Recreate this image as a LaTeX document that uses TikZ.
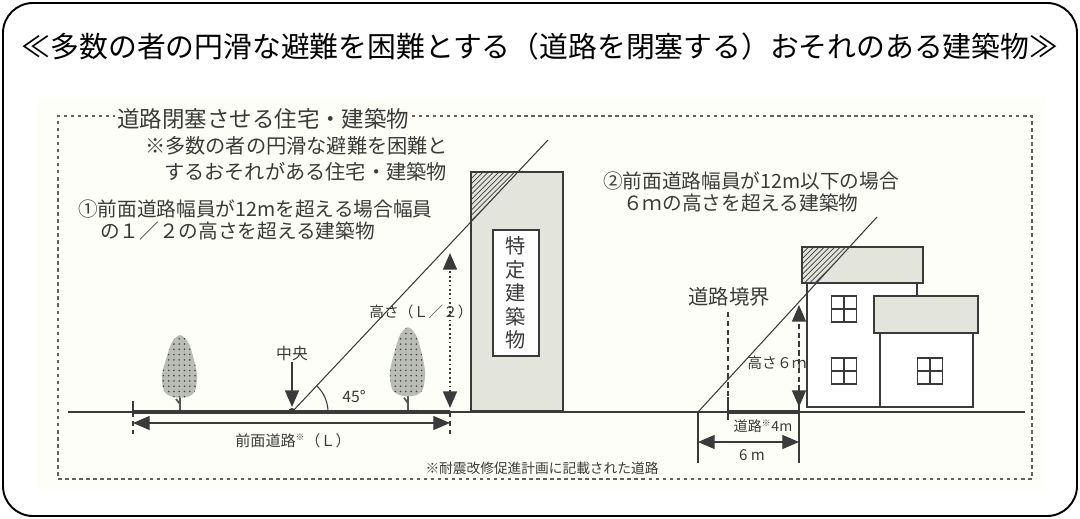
\documentclass[tikz,border=0pt]{standalone}
\usepackage{fontspec}
\setmainfont{Noto Sans CJK JP}
\usetikzlibrary{arrows.meta}
\usetikzlibrary{patterns}

\definecolor{ink}{HTML}{3A3A3A}
\definecolor{paper}{HTML}{FEFEF8}
\definecolor{bldg}{HTML}{E3E5DC}
\definecolor{leaf}{HTML}{BABDB6}

\newcommand{\fsz}[1]{\fontsize{#1}{1.15\dimexpr#1pt\relax}\selectfont}

\tikzset{
  lbl/.style = {text=ink, inner sep=1pt},
  thin/.style = {draw=ink, line width=0.6pt},
  roadbar/.style = {ink, line width=2.4pt},
  bighead/.tip = {Triangle[length=9.5pt,width=8pt]},
  dimarrow/.style = {ink, line width=0.7pt, bighead-bighead},
  framedash/.style = {gray!75!black, line width=0.6pt, dash pattern=on 2pt off 2pt},
  hatch/.style = {pattern=north east lines, pattern color=ink},
  roadtree/.pic = {
    \draw[ink!85, line width=1pt] (0,0) -- (0,-16) (0,-8) -- (-4,-13);
    \draw[gray, line width=0.4pt] (-8,0) -- (-7,-2) (-4,0) -- (-3,-2) (4,0) -- (5,-2) (8,0) -- (9,-2);
    \fill[leaf, postaction={pattern=dots, pattern color=gray!50!black}]
      plot[smooth cycle] coordinates {(0,-77) (8,-70) (13,-56) (17,-37) (15,-21) (7,-15) (-7,-15) (-16,-21) (-18,-37) (-13,-56) (-8,-70)};
  }
}

\begin{document}
\begin{tikzpicture}[x=0.02cm, y=-0.02cm]
\useasboundingbox (0,0) rectangle (1080,518);

% outer box and title
\draw[line width=1.1pt, rounded corners=0.6cm] (3,3) rectangle (1077,516);
\node[font=\fsz{16.4}] (title) at (540,47) {≪多数の者の円滑な避難を困難とする（道路を閉塞する）おそれのある建築物≫};

% scanned sheet
\fill[paper] (37,97) rectangle (1045,490);

% frame with its heading
\node[lbl, anchor=west, font=\fsz{12.8}] (framelbl) at (115,119) {道路閉塞させる住宅・建築物};
\coordinate (frNW) at (58,116);
\coordinate (frNE) at (1032,116);
\coordinate (frSE) at (1032,479);
\coordinate (frSW) at (58,479);
\draw[framedash] (framelbl.east |- frNE) -- (frNE) -- (frSE) -- (frSW) -- (frNW) -- (framelbl.west |- frNW);

\node[lbl, anchor=west, font=\fsz{11.5}] (note1) at (143,146) {※多数の者の円滑な避難を困難と};
\node[lbl, anchor=west, font=\fsz{11.5}] (note2) at (162,172) {するおそれがある住宅・建築物};
\node[lbl, anchor=west, font=\fsz{11.2}] (caseA1) at (76,209) {①前面道路幅員が12mを超える場合幅員};
\node[lbl, anchor=west, font=\fsz{11.2}] (caseA2) at (98,231) {の１／２の高さを超える建築物};
\node[lbl, anchor=west, font=\fsz{11.2}] (caseB1) at (601,181) {②前面道路幅員が12m以下の場合};
\node[lbl, anchor=west, font=\fsz{11.2}] (caseB2) at (621,203) {６ｍの高さを超える建築物};

% ground
\coordinate (gndW) at (68,412);
\coordinate (gndE) at (1025,412);
\draw[ink, line width=0.7pt] (gndW) -- (gndE);

% ---- case 1: wide road ----
\pic at (180,412) {roadtree};
\pic[yscale=1.1] at (408,412) {roadtree};

\coordinate (roadW) at (133,412);
\coordinate (roadE) at (450,412);
\coordinate (mid) at (292,412);
\draw[roadbar] (roadW) -- (roadE);
\draw[ink, line width=0.8pt] (133,401) -- (roadW);
\draw[ink, line width=0.8pt, densely dashed] (roadW) -- (133,434);
\draw[ink, line width=0.8pt, densely dashed] (roadE) -- (450,434);
\draw[dimarrow] (133,423) -- (450,423);
\node[lbl, font=\fsz{8.6}] (roadlbl) at (293,441) {前面道路\textsuperscript{\tiny ※}（Ｌ）};

% centre of road
\fill[ink] (mid) ++(-4,0) arc[start angle=180, end angle=360, radius=4] -- cycle;
\node[lbl, font=\fsz{9}] (midlbl) at (292,353) {中央};
\coordinate (midtop) at (292,407);
\draw[ink, line width=0.8pt, -bighead] (midlbl) -- (midtop);

% building and slope
\coordinate (slopeL) at (548,140);
\fill[bldg] (471,172) rectangle (563,411);
\fill[hatch] (471,172) -- (518,172) -- (471,222) -- cycle;
\draw[ink, line width=0.9pt] (471,172) rectangle (563,411);
\node[draw=ink, fill=white, line width=0.7pt, minimum width=0.92cm, minimum height=2.52cm,
      align=center, text=ink, font=\fontsize{11.5}{13.3}\selectfont] (tokutei) at (516,293) {特\\定\\建\\築\\物};
\draw[thin] (mid) -- (slopeL);
\draw[thin] (mid) ++(36,0) arc[start angle=0, end angle=-46.7, radius=36];
\node[lbl, font=\fsz{9}] (ang) at (354,397) {45°};

% half-width height
\coordinate (hLtop) at (450,253);
\coordinate (hLbot) at (450,408);
\draw[ink, line width=0.9pt, dash pattern=on 1pt off 1.5pt, bighead-bighead] (hLbot) -- (hLtop);
\node[lbl, font=\fsz{8.4}] (hLlbl) at (421,312) {高さ（Ｌ／２）};

% ---- case 2: narrow road ----
\coordinate (bnd) at (728,412);
\coordinate (road2E) at (799,412);
\coordinate (slopeRb) at (698,412);
\coordinate (slopeRt) at (877,217);
\node[lbl, font=\fsz{11.6}] (bndlbl) at (729,297) {道路境界};
\draw[ink, line width=0.7pt, densely dashed] (728,312) -- (bnd);
\draw[ink, line width=0.8pt] (728,397) -- (728,420);
\draw[roadbar] (bnd) -- (road2E);
\draw[ink, line width=0.7pt] (slopeRb) -- (698,463);
\draw[ink, line width=0.7pt] (799,405) -- (799,463);
\node[lbl, font=\fsz{8}] (road2lbl) at (763,426) {道路\textsuperscript{\tiny ※}4m};
\draw[dimarrow] (698,442) -- (799,442);
\node[lbl, font=\fsz{8.6}] (sixlbl) at (752,455) {6 m};

% house
\fill[white, draw=ink, line width=0.9pt] (807,283) rectangle (917,407);
\fill[bldg] (802,247) rectangle (923,283);
\fill[hatch] (802,247) -- (849,247) -- (816,283) -- (802,283) -- cycle;
\draw[ink, line width=0.9pt] (802,247) rectangle (923,283);
\fill[white, draw=ink, line width=0.9pt] (880,333) rectangle (973,407);
\filldraw[fill=bldg, draw=ink, line width=0.9pt] (874,296) rectangle (978,333);
\foreach \wx/\wy in {844/309, 844/371, 930/371} {
  \draw[ink, line width=0.8pt] (\wx-12.5,\wy-13) rectangle (\wx+12.5,\wy+13)
    (\wx,\wy-13) -- (\wx,\wy+13) (\wx-12.5,\wy) -- (\wx+12.5,\wy);
}
\draw[thin] (slopeRb) -- (slopeRt);

% six metre height
\coordinate (h6top) at (799,305);
\coordinate (h6bot) at (799,407);
\draw[ink, line width=0.8pt, densely dashed, bighead-bighead] (h6bot) -- (h6top);
\node[lbl, font=\fsz{8.4}] (h6lbl) at (777,363) {高さ６ｍ};

% footnote
\node[lbl, font=\fsz{7.8}] (foot) at (542,468) {※耐震改修促進計画に記載された道路};
\end{tikzpicture}
\end{document}
